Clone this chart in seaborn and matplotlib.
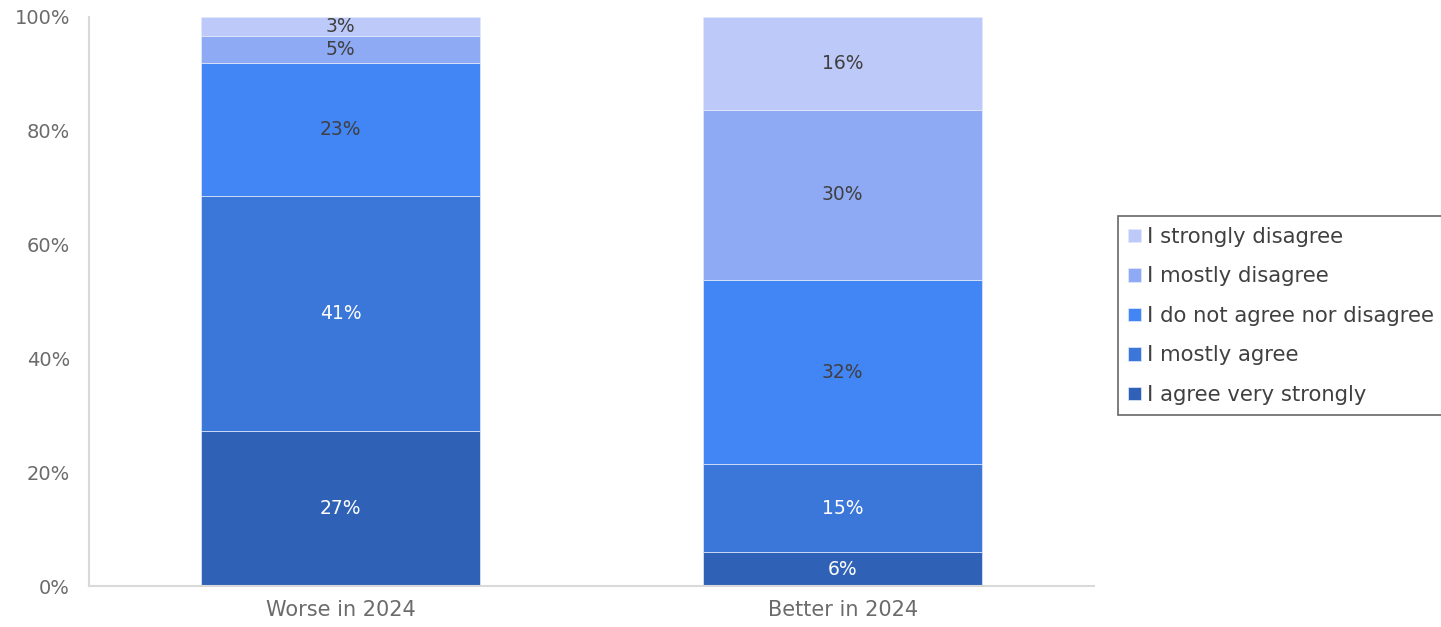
import numpy as np
import pandas as pd
import seaborn as sns
import matplotlib.pyplot as plt

# groups on the x axis
groups = ['Worse in 2024', 'Better in 2024']

# answers, bottom of the stack first
answers = ['I agree very strongly', 'I mostly agree', 'I do not agree nor disagree',
           'I mostly disagree', 'I strongly disagree']

# share of answers (%) per group, same order as answers
worse = [27.2, 41.3, 23.4, 4.8, 3.3]
better = [6.0, 15.4, 32.4, 29.9, 16.3]

colors = ['#2F62B6', '#3B76D9', '#4285F4', '#8FAAF5', '#BDC9F9']
label_colors = ['white', 'white', '#404040', '#404040', '#404040']

rows = []
for g, vals in zip(groups, [worse, better]):
    for a, v in zip(answers, vals):
        rows.append({'group': g, 'answer': a, 'pct': v})
df = pd.DataFrame(rows)

sns.set_style('white')
plt.rcParams['font.family'] = ['DejaVu Sans']

fig = plt.figure(figsize=(14.41, 6.27), dpi=100)
ax = fig.add_axes([0.062, 0.065, 0.697, 0.908])

# top of the legend first, so reverse the answer order for hue
hue_order = answers[::-1]
palette = dict(zip(answers, colors))
sns.histplot(data=df, x='group', hue='answer', weights='pct', multiple='stack',
             discrete=True, shrink=0.556, hue_order=hue_order, palette=palette,
             alpha=1, edgecolor='#e4eafb', linewidth=0.5, ax=ax)

# value labels in the middle of each segment
for i, vals in enumerate([worse, better]):
    bottom = 0
    for v, c in zip(vals, label_colors):
        ax.text(i, bottom + v / 2, f'{round(v):.0f}%', ha='center', va='center',
                fontsize=13.5, color=c)
        bottom += v

ax.set_xlim(-0.5, 1.5)
ax.set_ylim(0, 100)
ax.set_yticks(np.arange(0, 101, 20))
ax.set_yticklabels([f'{t}%' for t in range(0, 101, 20)])
ax.set_xlabel('')
ax.set_ylabel('')
ax.tick_params(axis='both', length=0, colors='#6b6b6b')
ax.tick_params(axis='x', pad=10, labelsize=15)
ax.tick_params(axis='y', pad=14, labelsize=14)
for s in ['top', 'right']:
    ax.spines[s].set_visible(False)
for s in ['left', 'bottom']:
    ax.spines[s].set_color('#d9d9d9')
    ax.spines[s].set_linewidth(1.5)

sns.move_legend(ax, 'center left', bbox_to_anchor=(1.024, 0.475), title=None,
                frameon=True, fontsize=15.2, handlelength=0.6, handleheight=0.6,
                handletextpad=0.3, labelspacing=0.92, borderpad=0.5,
                borderaxespad=0, fancybox=False, edgecolor='#404040',
                labelcolor='#404040')
ax.get_legend().get_frame().set_linewidth(1.2)

fig.savefig('out.png', dpi=100)
